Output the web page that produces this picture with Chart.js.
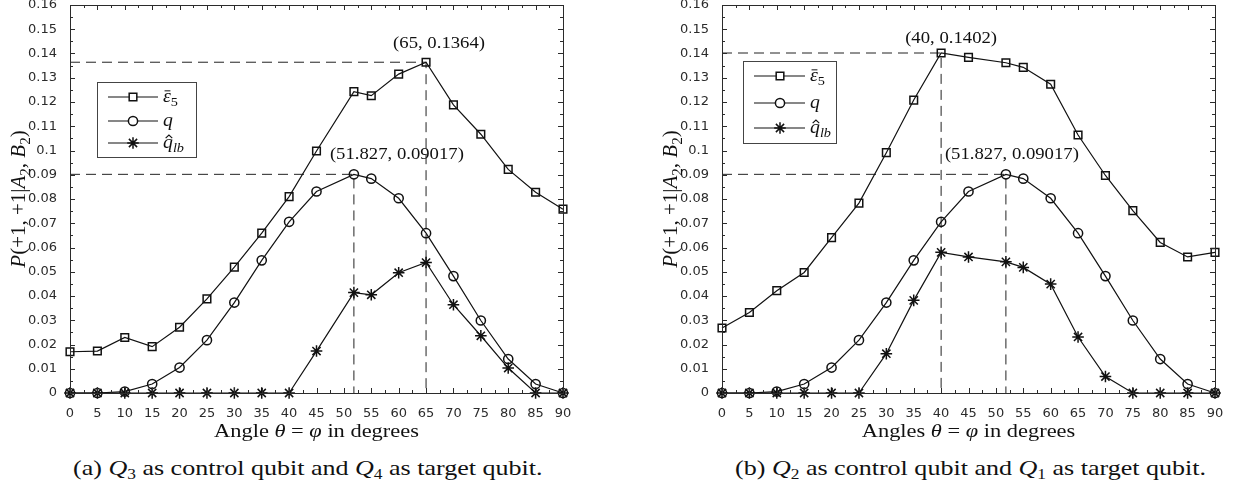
<!DOCTYPE html>
<html><head><meta charset="utf-8">
<script src="https://cdn.jsdelivr.net/npm/chart.js@4/dist/chart.umd.min.js"></script>
<style>
html,body{margin:0;padding:0;background:#fff;}
body{width:1239px;height:487px;position:relative;overflow:hidden;}
canvas{position:absolute;top:-10px;}
#c1{left:0}
#c2{left:620px}
.cap{position:absolute;top:455px;font-family:"Liberation Serif","DejaVu Serif",serif;font-size:21px;white-space:nowrap;transform-origin:0 0;color:#111;line-height:26px}
.cap sub{font-size:14px;vertical-align:-4px;line-height:0}
</style></head>
<body>
<canvas id="c1" width="620" height="455"></canvas>
<canvas id="c2" width="619" height="455"></canvas>
<div class="cap" id="capA">(a) <i>Q</i><sub>3</sub> as control qubit and <i>Q</i><sub>4</sub> as target qubit.</div>
<div class="cap" id="capB">(b) <i>Q</i><sub>2</sub> as control qubit and <i>Q</i><sub>1</sub> as target qubit.</div>
<script>
// ---------- data ----------
const angles = [0,5,10,15,20,25,30,35,40,45,51.827,55,60,65,70,75,80,85,90];
const xTicks = [0,5,10,15,20,25,30,35,40,45,50,55,60,65,70,75,80,85,90];
const yTicks = [0,0.01,0.02,0.03,0.04,0.05,0.06,0.07,0.08,0.09,0.1,0.11,0.12,0.13,0.14,0.15,0.16];
const seriesNames = ['eps5','q','qlb'];

const epsA = [0.0170,0.0173,0.0229,0.0191,0.0271,0.0388,0.0519,0.0659,0.0810,0.0998,0.1243,0.1226,0.1315,0.1364,0.1188,0.1067,0.0922,0.0828,0.0758];
const qA   = [0,0,0.0006,0.0037,0.0105,0.0218,0.0373,0.0547,0.0706,0.0831,0.09017,0.0884,0.0803,0.0659,0.0482,0.0299,0.0140,0.0037,0];
const qlbA = [0,0,0,0,0,0,0,0,0,0.0173,0.0414,0.0405,0.0496,0.0538,0.0364,0.0236,0.0103,0,0];

const epsB = [0.0268,0.0332,0.0422,0.0497,0.0641,0.0783,0.0991,0.1208,0.1402,0.1384,0.1362,0.1343,0.1273,0.1064,0.0897,0.0752,0.0621,0.0561,0.0580];
const qB   = [0,0,0.0006,0.0037,0.0105,0.0218,0.0373,0.0547,0.0706,0.0831,0.09017,0.0884,0.0803,0.0659,0.0482,0.0299,0.0140,0.0037,0];
const qlbB = [0,0,0,0,0,0,0.0162,0.0382,0.0580,0.0561,0.0541,0.0518,0.0449,0.0231,0.0068,0,0,0,0];

const peaksA = [[65,0.1364],[51.827,0.09017]];
const peaksB = [[40,0.1402],[51.827,0.09017]];
const peakLabelsA = ['(65, 0.1364)','(51.827, 0.09017)'];
const peakLabelsB = ['(40, 0.1402)','(51.827, 0.09017)'];

// ---------- helpers ----------
const SERIF = '"Liberation Serif","DejaVu Serif",serif';
const SANS = '"DejaVu Sans","Liberation Sans",sans-serif';
const INK = '#111';
const AXC = '#2b2b2b';
const CAP_SX = 1.24;

// center captions under each plot (scaled horizontally)
function placeCap(id, cx){
  const el = document.getElementById(id);
  const w = el.offsetWidth * CAP_SX;
  el.style.transform = 'scaleX(' + CAP_SX + ')';
  el.style.left = (cx - w/2) + 'px';
}
placeCap('capA', 308); placeCap('capB', 971);

function segFont(s, size){ const sz = s.sub ? Math.round(size*0.7) : size; return (s.i?'italic ':'') + sz + 'px ' + SERIF; }
function richWidth(ctx, segs, size){ let w=0; for(const s of segs){ ctx.font=segFont(s,size); w+=ctx.measureText(s.t).width; } return w; }
function richDraw(ctx, segs, x, y, size, align, sx){
  sx = sx || 1;
  const w = richWidth(ctx,segs,size);
  let start = align==='center'? x-w*sx/2 : align==='right'? x-w*sx : x;
  ctx.save();
  ctx.translate(start, y); ctx.scale(sx, 1);
  let cx = 0;
  ctx.textBaseline='alphabetic'; ctx.textAlign='left'; ctx.fillStyle=INK;
  for (const s of segs){
    ctx.font=segFont(s,size);
    const dy = s.sub ? size*0.22 : 0;
    ctx.fillText(s.t,cx,dy);
    const sw = ctx.measureText(s.t).width;
    if (s.bar){ ctx.save(); ctx.strokeStyle=INK; ctx.lineWidth=1; ctx.beginPath(); ctx.moveTo(cx+sw*0.2, -size*0.62); ctx.lineTo(cx+sw*0.95, -size*0.62); ctx.stroke(); ctx.restore(); }
    if (s.hat){ ctx.save(); ctx.strokeStyle=INK; ctx.lineWidth=1; const c=cx+sw*0.6; ctx.beginPath(); ctx.moveTo(c-3, -size*0.55); ctx.lineTo(c, -size*0.72); ctx.lineTo(c+3, -size*0.55); ctx.stroke(); ctx.restore(); }
    cx += sw;
  }
  ctx.restore();
}
const fmt = v => String(parseFloat(Number(v).toFixed(3)));

function series(xs, ys){ return xs.map((x,i)=>({x:x, y:ys[i]})); }
function guide(p){ return [{x:0,y:p[1]},{x:p[0],y:p[1]},{x:p[0],y:0}]; }

const styles = [
  {pointStyle:'rect', pointRadius:5.4},
  {pointStyle:'circle', pointRadius:4.6},
  {pointStyle:'star', pointRadius:5.8}
];
const legendLabels = [
  [{t:'ε',i:1,bar:1},{t:'5',sub:1}],
  [{t:'q',i:1}],
  [{t:'q',i:1,hat:1},{t:'lb',i:1,sub:1}]
];

function makeDatasets(ys, peaks){
  const ds = ys.map((arr,k)=>({
    label: seriesNames[k],
    data: series(angles, arr),
    borderColor: INK, borderWidth: 1.2,
    pointStyle: styles[k].pointStyle, pointRadius: styles[k].pointRadius,
    pointBorderColor: INK, pointBackgroundColor: 'rgba(0,0,0,0)', pointBorderWidth: 1.5,
    pointHoverRadius: styles[k].pointRadius,
    tension: 0, clip: false
  }));
  peaks.forEach(p=>ds.push({
    label:'guide', data: guide(p), borderColor:'#222', borderWidth:1, borderDash:[10,6],
    pointRadius:0, tension:0, clip:false
  }));
  return ds;
}

const decor = {
  id:'decor',
  afterDraw(chart, args, o){
    const ctx = chart.ctx, a = chart.chartArea;
    const xs = chart.scales.x, ys = chart.scales.y;
    ctx.save();
    ctx.setLineDash([]);
    // frame
    ctx.strokeStyle = AXC; ctx.lineWidth = 1;
    ctx.strokeRect(Math.round(a.left)+0.5, Math.round(a.top)+0.5, Math.round(a.right-a.left), Math.round(a.bottom-a.top));
    // ticks (inward, all four sides, with minor)
    ctx.beginPath();
    for (let i=0;i<xTicks.length;i++){
      const px = Math.round(xs.getPixelForValue(xTicks[i]))+0.5;
      ctx.moveTo(px,a.bottom); ctx.lineTo(px,a.bottom-5);
      ctx.moveTo(px,a.top); ctx.lineTo(px,a.top+5);
      if (i<xTicks.length-1){
        const mx = Math.round(xs.getPixelForValue((xTicks[i]+xTicks[i+1])/2))+0.5;
        ctx.moveTo(mx,a.bottom); ctx.lineTo(mx,a.bottom-3);
        ctx.moveTo(mx,a.top); ctx.lineTo(mx,a.top+3);
      }
    }
    for (let i=0;i<yTicks.length;i++){
      const py = Math.round(ys.getPixelForValue(yTicks[i]))+0.5;
      ctx.moveTo(a.left,py); ctx.lineTo(a.left+5,py);
      ctx.moveTo(a.right,py); ctx.lineTo(a.right-5,py);
      if (i<yTicks.length-1){
        const my = Math.round(ys.getPixelForValue((yTicks[i]+yTicks[i+1])/2))+0.5;
        ctx.moveTo(a.left,my); ctx.lineTo(a.left+3,my);
        ctx.moveTo(a.right,my); ctx.lineTo(a.right-3,my);
      }
    }
    ctx.stroke();
    // peak annotations
    o.notes.forEach(n=>{
      const px = xs.getPixelForValue(n.p[0]), py = ys.getPixelForValue(n.p[1]);
      richDraw(ctx, [{t:n.text}], px+n.dx, py+n.dy+6, 17, n.align, 1.1);
    });
    // legend
    const L = o.legend;
    ctx.fillStyle='#fff'; ctx.fillRect(L.x, L.y, L.w, L.h);
    ctx.strokeStyle='#444'; ctx.lineWidth=1; ctx.strokeRect(L.x+0.5, L.y+0.5, L.w, L.h);
    L.rows.forEach((ry,k)=>{
      ctx.strokeStyle=INK; ctx.lineWidth=1.2;
      ctx.beginPath(); ctx.moveTo(L.x1, ry); ctx.lineTo(L.x2, ry); ctx.stroke();
      ctx.lineWidth=1.5; ctx.fillStyle='#fff';
      Chart.helpers.drawPoint(ctx, {pointStyle: styles[k].pointStyle, radius: styles[k].pointRadius, rotation:0, borderWidth:1.5}, L.mx, ry);
      richDraw(ctx, legendLabels[k], L.tx, ry+5, 18, 'left', 1.1);
    });
    // axis titles
    richDraw(ctx, o.xtitle, (a.left+a.right)/2, o.xtitleY, 19, 'center', 1.18);
    ctx.save();
    ctx.translate(o.ytitleX, (a.top+a.bottom)/2);
    ctx.rotate(-Math.PI/2);
    richDraw(ctx, [{t:'P',i:1},{t:'(+1, +1|'},{t:'A',i:1},{t:'2',sub:1},{t:', '},{t:'B',i:1},{t:'2',sub:1},{t:')'}], 0, 7, 21, 'center', 1);
    ctx.restore();
    ctx.restore();
  }
};

function makeChart(id, ys, peaks, yAxisWidth, padRight, opts){
  return new Chart(document.getElementById(id), {
    type:'line',
    data:{ datasets: makeDatasets(ys, peaks) },
    options:{
      responsive:false, animation:false, devicePixelRatio:1,
      layout:{ padding:{ left:0, right:padRight, top:15, bottom:0 } },
      plugins:{ legend:{display:false}, tooltip:{enabled:false}, decor: opts },
      events: [],
      scales:{
        x:{ type:'linear', min:0, max:90,
            grid:{display:false}, border:{display:false},
            afterBuildTicks: s => { s.ticks = xTicks.map(v=>({value:v})); },
            afterFit: s => { s.height = 52; },
            ticks:{ autoSkip:false, maxRotation:0, padding:5, color:AXC, font:{family:SANS, size:13}, callback: v => fmt(v) } },
        y:{ type:'linear', min:0, max:0.16,
            grid:{display:false}, border:{display:false},
            afterBuildTicks: s => { s.ticks = yTicks.map(v=>({value:v})); },
            afterFit: s => { s.width = yAxisWidth; },
            ticks:{ autoSkip:false, padding:5, color:AXC, font:{family:SANS, size:13}, callback: v => fmt(v) } }
      }
    },
    plugins:[decor]
  });
}

makeChart('c1', [epsA,qA,qlbA], peaksA, 70, 57, {
  notes:[
    {p:peaksA[0], text:peakLabelsA[0], dx:13, dy:-20, align:'center'},
    {p:peaksA[1], text:peakLabelsA[1], dx:-24, dy:-21, align:'left'}
  ],
  legend:{x:97, y:92, w:99, h:75, rows:[107,131,153], x1:108, x2:158, mx:133, tx:163},
  xtitle:[{t:'Angle '},{t:'θ',i:1},{t:' = '},{t:'φ',i:1},{t:' in degrees'}],
  xtitleY: 447, ytitleX: 18
});
makeChart('c2', [epsB,qB,qlbB], peaksB, 102, 24, {
  notes:[
    {p:peaksB[0], text:peakLabelsB[0], dx:10, dy:-16, align:'center'},
    {p:peaksB[1], text:peakLabelsB[1], dx:-61, dy:-21, align:'left'}
  ],
  legend:{x:123, y:71, w:93, h:82, rows:[86,113,138], x1:134, x2:185, mx:160, tx:190},
  xtitle:[{t:'Angles '},{t:'θ',i:1},{t:' = '},{t:'φ',i:1},{t:' in degrees'}],
  xtitleY: 447, ytitleX: 50
});
</script>
</body></html>
